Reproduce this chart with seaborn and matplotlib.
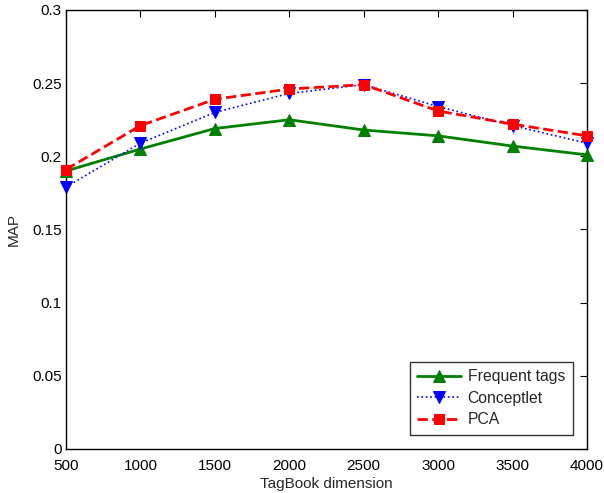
import matplotlib
matplotlib.use("Agg")
import matplotlib.pyplot as plt
import seaborn as sns
import pandas as pd

dims = [500, 1000, 1500, 2000, 2500, 3000, 3500, 4000]
frequent = [0.190, 0.205, 0.219, 0.225, 0.218, 0.214, 0.207, 0.201]
conceptlet = [0.179, 0.209, 0.230, 0.243, 0.249, 0.234, 0.221, 0.209]
pca = [0.191, 0.221, 0.239, 0.246, 0.249, 0.231, 0.222, 0.214]
xticks = [500, 1000, 1500, 2000, 2500, 3000, 3500, 4000]
yticks = [0, 0.05, 0.1, 0.15, 0.2, 0.25, 0.3]
ytick_labels = ["0", "0.05", "0.1", "0.15", "0.2", "0.25", "0.3"]

sns.set_theme(style="white")
plt.rcParams['font.family'] = ['Liberation Sans', 'DejaVu Sans']

fig = plt.figure(figsize=(6.04, 4.93), dpi=100)
ax = fig.add_axes([66/604, 44/493, 521/604, 439/493])

df = pd.DataFrame({"dim": dims * 3,
                   "MAP": frequent + conceptlet + pca,
                   "method": ["Frequent tags"] * 8 + ["Conceptlet"] * 8 + ["PCA"] * 8})

styles = {
    "Frequent tags": dict(color="#008000", ls="-", marker="^", lw=2, ms=9),
    "Conceptlet": dict(color="#0000ff", ls=":", marker="v", lw=1.2, ms=9),
    "PCA": dict(color="#ff0000", ls="--", marker="s", lw=2, ms=7.5),
}
for name, st in styles.items():
    sub = df[df.method == name]
    sns.lineplot(data=sub, x="dim", y="MAP", ax=ax, color=st["color"],
                 linestyle=st["ls"], marker=st["marker"], linewidth=st["lw"],
                 markersize=st["ms"], markeredgecolor=st["color"], label=name,
                 clip_on=False, zorder=3)

ax.set_xlim(500, 4000)
ax.set_ylim(0, 0.3)
ax.set_xticks(xticks)
ax.set_xticklabels([str(x) for x in xticks])
ax.set_yticks(yticks)
ax.set_yticklabels(ytick_labels)
ax.tick_params(direction="in", top=True, right=True, length=5, width=0.8,
               labelsize=11, colors="black", pad=3)
ax.tick_params(axis="x", pad=7)
for s in ax.spines.values():
    s.set_color("black")
    s.set_linewidth(1)
ax.set_xlabel("TagBook dimension", fontsize=11, labelpad=3)
ax.set_ylabel("MAP", fontsize=11, labelpad=8)
leg = ax.legend(loc="lower right", fontsize=11.3, frameon=True, fancybox=False,
                edgecolor="black", borderaxespad=0.9, handlelength=2.8,
                borderpad=0.5, labelspacing=0.4, handletextpad=0.4)
leg.get_frame().set_linewidth(1)
leg.set_zorder(5)
fig.savefig("out.png", dpi=100)
